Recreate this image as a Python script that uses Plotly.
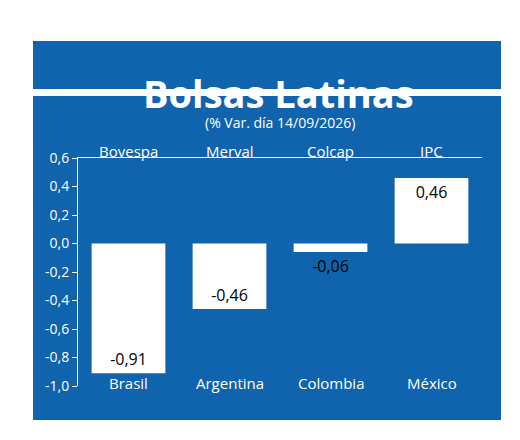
import plotly.graph_objects as go

paises = ['Brasil', 'Argentina', 'Colombia', 'México']
indices = ['Bovespa', 'Merval', 'Colcap', 'IPC']
variacion = [-0.91, -0.46, -0.06, 0.46]
etiquetas = ['-0,91', '-0,46', '-0,06', '0,46']
y_ticks = [0.6, 0.4, 0.2, 0.0, -0.2, -0.4, -0.6, -0.8, -1.0]

azul = '#1063ad'

# dominio del gráfico en píxeles: x 70-474, y 150-378
def px(x):
    return (x - 70) / 404

def py(y):
    return (378 - y) / 228

fig = go.Figure()
fig.add_trace(go.Bar(
    x=paises, y=variacion, width=0.73,
    marker=dict(color='white', line=dict(width=0)),
    text=etiquetas,
    textposition=['inside', 'inside', 'outside', 'inside'],
    insidetextanchor='end',
    textangle=0,
    textfont=dict(color='black', size=16, family='Open Sans'),
    cliponaxis=False,
))

shapes = [
    dict(type='rect', xref='paper', yref='paper', x0=px(25), x1=px(493), y0=py(81), y1=py(33),
         fillcolor=azul, line=dict(width=0), layer='below'),
    dict(type='rect', xref='paper', yref='paper', x0=px(25), x1=px(493), y0=py(412), y1=py(88),
         fillcolor=azul, line=dict(width=0), layer='below'),
]

annotations = [
    dict(text='<b>Bolsas Latinas</b>', xref='paper', yref='paper', x=px(270), y=py(57),
         showarrow=False, font=dict(size=38, color='white', family='Open Sans')),
    dict(text='(% Var. día 14/09/2026)', xref='paper', yref='paper', x=px(272), y=py(103),
         showarrow=False, font=dict(size=14, color='white')),
]
for p, ind in zip(paises, indices):
    annotations.append(dict(text=ind, xref='x', yref='paper', x=p, y=py(131), showarrow=False,
                            font=dict(size=15, color='white')))
    annotations.append(dict(text=p, xref='x', yref='paper', x=p, y=py(387), showarrow=False,
                            font=dict(size=15, color='white')))

fig.update_layout(
    width=520, height=440,
    margin=dict(l=70, r=46, t=150, b=62, autoexpand=False),
    paper_bgcolor='white', plot_bgcolor=azul,
    separators=',.',
    showlegend=False,
    shapes=shapes,
    annotations=annotations,
    font=dict(family='Open Sans', color='white'),
    xaxis=dict(side='top', showline=True, linecolor='white', linewidth=1, showgrid=False,
               ticks='', showticklabels=False, automargin=False),
    yaxis=dict(range=[-1.0, 0.6], tickvals=y_ticks, ticktext=[f'{v:.1f}'.replace('.', ',') for v in y_ticks],
               showline=True, linecolor='white', linewidth=1, ticks='outside', tickcolor='white',
               ticklen=5, showgrid=False, zeroline=False, automargin=False,
               tickfont=dict(size=14, color='white')),
)

fig.write_html('out.html')
